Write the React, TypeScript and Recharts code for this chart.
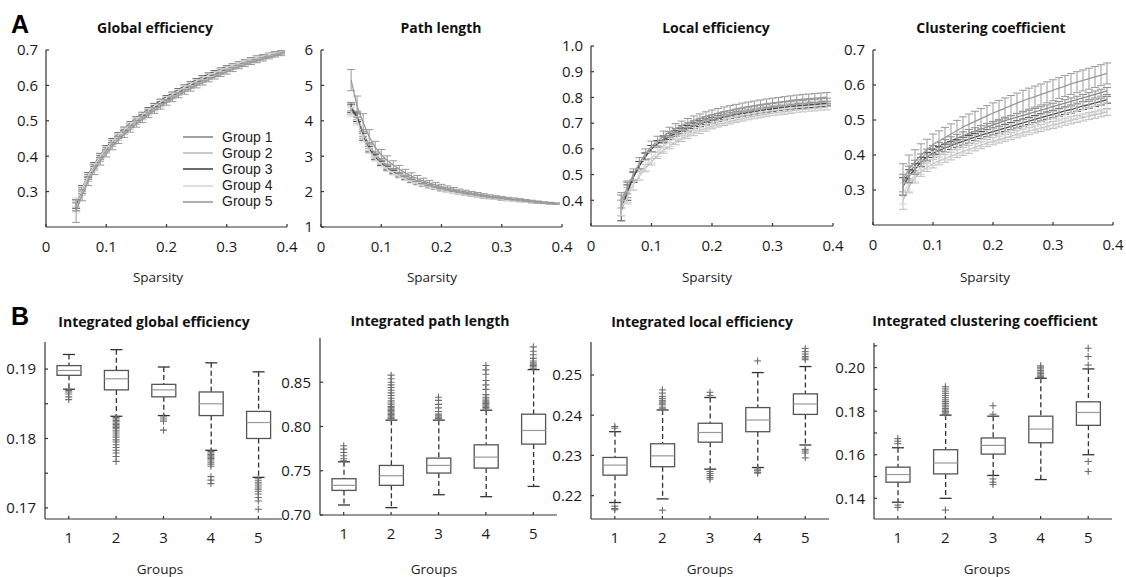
import React from 'react';
import { ComposedChart, Line, ErrorBar, Bar, Scatter, XAxis, YAxis, Legend } from 'recharts';

// ---- shared ----
const sparsity = [0.05, 0.06, 0.07, 0.08, 0.09, 0.1, 0.11, 0.12, 0.13, 0.14, 0.15, 0.16, 0.17, 0.18, 0.19, 0.2, 0.21, 0.22, 0.23, 0.24, 0.25, 0.26, 0.27, 0.28, 0.29, 0.3, 0.31, 0.32, 0.33, 0.34, 0.35, 0.36, 0.37, 0.38, 0.39];
const groupNames = ['Group 1', 'Group 2', 'Group 3', 'Group 4', 'Group 5'];
const boxCategories = ['1', '2', '3', '4', '5'];
const sparsityTicks = [0, 0.1, 0.2, 0.3, 0.4];

// ---- global efficiency ----
const geMeans = [
  [0.258, 0.303, 0.341, 0.370, 0.396, 0.418, 0.438, 0.455, 0.471, 0.486, 0.500, 0.513, 0.526, 0.538, 0.550, 0.561, 0.571, 0.581, 0.591, 0.600, 0.609, 0.617, 0.625, 0.632, 0.639, 0.646, 0.653, 0.659, 0.665, 0.670, 0.675, 0.680, 0.684, 0.688, 0.692],
  [0.255, 0.298, 0.336, 0.365, 0.391, 0.413, 0.433, 0.450, 0.466, 0.481, 0.495, 0.508, 0.521, 0.533, 0.545, 0.556, 0.566, 0.576, 0.586, 0.595, 0.604, 0.612, 0.620, 0.628, 0.635, 0.642, 0.649, 0.655, 0.661, 0.667, 0.672, 0.677, 0.682, 0.686, 0.690],
  [0.265, 0.309, 0.347, 0.376, 0.402, 0.424, 0.444, 0.461, 0.477, 0.492, 0.506, 0.519, 0.532, 0.544, 0.556, 0.567, 0.577, 0.587, 0.597, 0.606, 0.615, 0.623, 0.631, 0.638, 0.645, 0.652, 0.658, 0.664, 0.670, 0.675, 0.680, 0.684, 0.688, 0.692, 0.695],
  [0.270, 0.307, 0.345, 0.374, 0.400, 0.422, 0.442, 0.459, 0.475, 0.490, 0.504, 0.517, 0.530, 0.542, 0.554, 0.565, 0.575, 0.585, 0.595, 0.604, 0.613, 0.621, 0.629, 0.636, 0.643, 0.650, 0.657, 0.663, 0.669, 0.674, 0.679, 0.683, 0.687, 0.691, 0.694],
  [0.245, 0.290, 0.330, 0.360, 0.386, 0.408, 0.428, 0.446, 0.462, 0.477, 0.491, 0.504, 0.517, 0.529, 0.541, 0.552, 0.562, 0.572, 0.582, 0.591, 0.600, 0.608, 0.616, 0.624, 0.631, 0.638, 0.645, 0.652, 0.658, 0.664, 0.669, 0.674, 0.679, 0.684, 0.688],
];
const geErrNarrow = [0.012, 0.008, 0.007, 0.006, 0.006, 0.006, 0.006, 0.005, 0.005, 0.005, 0.005, 0.005, 0.005, 0.005, 0.005, 0.004, 0.004, 0.004, 0.004, 0.004, 0.004, 0.004, 0.004, 0.004, 0.004, 0.003, 0.003, 0.003, 0.003, 0.003, 0.003, 0.003, 0.003, 0.003, 0.003];
const geErrWide = [0.032, 0.016, 0.013, 0.012, 0.011, 0.010, 0.010, 0.010, 0.009, 0.009, 0.009, 0.009, 0.008, 0.008, 0.008, 0.008, 0.008, 0.007, 0.007, 0.007, 0.007, 0.007, 0.006, 0.006, 0.006, 0.006, 0.006, 0.005, 0.005, 0.005, 0.005, 0.005, 0.004, 0.004, 0.004];
const geErrs = [geErrNarrow, geErrNarrow, geErrNarrow, geErrNarrow, geErrWide];

// ---- path length ----
const plMeans = [
  [4.4, 4.15, 3.65, 3.3, 3.05, 2.87, 2.72, 2.6, 2.5, 2.42, 2.35, 2.28, 2.22, 2.17, 2.12, 2.08, 2.04, 2.0, 1.97, 1.94, 1.91, 1.89, 1.86, 1.84, 1.82, 1.8, 1.78, 1.76, 1.74, 1.73, 1.71, 1.7, 1.68, 1.67, 1.66],
  [4.3, 4.05, 3.6, 3.25, 3.0, 2.82, 2.68, 2.57, 2.47, 2.39, 2.32, 2.26, 2.2, 2.15, 2.1, 2.06, 2.02, 1.99, 1.96, 1.93, 1.9, 1.88, 1.85, 1.83, 1.81, 1.79, 1.77, 1.75, 1.74, 1.72, 1.71, 1.69, 1.68, 1.67, 1.65],
  [4.35, 4.1, 3.55, 3.2, 2.97, 2.8, 2.66, 2.55, 2.45, 2.37, 2.3, 2.24, 2.18, 2.13, 2.09, 2.05, 2.01, 1.98, 1.95, 1.92, 1.89, 1.87, 1.84, 1.82, 1.8, 1.78, 1.76, 1.75, 1.73, 1.72, 1.7, 1.69, 1.68, 1.66, 1.65],
  [4.25, 4.0, 3.5, 3.15, 2.93, 2.76, 2.63, 2.52, 2.43, 2.35, 2.28, 2.22, 2.17, 2.12, 2.08, 2.04, 2.0, 1.97, 1.94, 1.91, 1.89, 1.86, 1.84, 1.82, 1.8, 1.78, 1.76, 1.74, 1.73, 1.71, 1.7, 1.69, 1.67, 1.66, 1.65],
  [5.15, 4.4, 3.95, 3.55, 3.25, 3.04, 2.88, 2.75, 2.63, 2.53, 2.44, 2.37, 2.3, 2.24, 2.19, 2.14, 2.1, 2.06, 2.02, 1.99, 1.96, 1.93, 1.9, 1.87, 1.85, 1.83, 1.81, 1.79, 1.77, 1.75, 1.73, 1.71, 1.69, 1.68, 1.66],
];
const plErrNarrow = [0.12, 0.12, 0.1, 0.08, 0.07, 0.06, 0.055, 0.05, 0.045, 0.04, 0.04, 0.035, 0.035, 0.03, 0.03, 0.03, 0.025, 0.025, 0.025, 0.025, 0.02, 0.02, 0.02, 0.02, 0.02, 0.02, 0.015, 0.015, 0.015, 0.015, 0.015, 0.015, 0.015, 0.015, 0.015];
const plErrWide = [0.3, 0.3, 0.25, 0.2, 0.17, 0.15, 0.13, 0.12, 0.11, 0.1, 0.09, 0.085, 0.08, 0.075, 0.07, 0.065, 0.06, 0.055, 0.05, 0.05, 0.045, 0.045, 0.04, 0.04, 0.035, 0.035, 0.03, 0.03, 0.03, 0.025, 0.025, 0.025, 0.02, 0.02, 0.02];
const plErrs = [plErrNarrow, plErrNarrow, plErrNarrow, plErrNarrow, plErrWide];

// ---- local efficiency ----
const leMeans = [
  [0.38, 0.44, 0.49, 0.535, 0.57, 0.60, 0.62, 0.64, 0.655, 0.668, 0.68, 0.69, 0.70, 0.708, 0.715, 0.722, 0.728, 0.734, 0.739, 0.744, 0.748, 0.752, 0.756, 0.76, 0.763, 0.766, 0.769, 0.772, 0.775, 0.777, 0.779, 0.781, 0.783, 0.785, 0.787],
  [0.38, 0.42, 0.46, 0.495, 0.525, 0.55, 0.575, 0.595, 0.612, 0.627, 0.64, 0.652, 0.662, 0.671, 0.68, 0.688, 0.695, 0.701, 0.707, 0.713, 0.718, 0.723, 0.727, 0.731, 0.735, 0.739, 0.742, 0.745, 0.748, 0.751, 0.754, 0.756, 0.758, 0.76, 0.762],
  [0.36, 0.43, 0.49, 0.535, 0.57, 0.60, 0.62, 0.635, 0.648, 0.66, 0.67, 0.68, 0.69, 0.698, 0.705, 0.712, 0.718, 0.724, 0.729, 0.734, 0.738, 0.742, 0.746, 0.75, 0.753, 0.756, 0.759, 0.762, 0.765, 0.767, 0.769, 0.771, 0.773, 0.775, 0.777],
  [0.37, 0.41, 0.46, 0.50, 0.535, 0.565, 0.59, 0.61, 0.628, 0.643, 0.656, 0.667, 0.677, 0.686, 0.694, 0.701, 0.708, 0.714, 0.72, 0.725, 0.73, 0.734, 0.738, 0.742, 0.746, 0.749, 0.752, 0.755, 0.758, 0.76, 0.762, 0.764, 0.766, 0.768, 0.77],
  [0.40, 0.45, 0.50, 0.545, 0.58, 0.61, 0.63, 0.65, 0.665, 0.68, 0.69, 0.70, 0.71, 0.718, 0.726, 0.733, 0.739, 0.745, 0.75, 0.755, 0.76, 0.764, 0.768, 0.772, 0.776, 0.779, 0.782, 0.785, 0.788, 0.791, 0.793, 0.795, 0.797, 0.799, 0.801],
];
const leErrNarrow = [0.04, 0.03, 0.02, 0.016, 0.014, 0.013, 0.012, 0.012, 0.012, 0.011, 0.011, 0.011, 0.011, 0.011, 0.011, 0.01, 0.01, 0.01, 0.01, 0.01, 0.01, 0.01, 0.01, 0.01, 0.01, 0.01, 0.01, 0.01, 0.01, 0.01, 0.01, 0.01, 0.01, 0.01, 0.01];
const leErrWide = [0.03, 0.025, 0.022, 0.021, 0.02, 0.02, 0.019, 0.019, 0.019, 0.018, 0.018, 0.018, 0.018, 0.018, 0.018, 0.018, 0.018, 0.018, 0.018, 0.018, 0.018, 0.018, 0.018, 0.018, 0.018, 0.018, 0.018, 0.018, 0.018, 0.018, 0.018, 0.018, 0.018, 0.018, 0.018];
const leErrs = [leErrNarrow, leErrNarrow, leErrNarrow, leErrWide, leErrWide];

// ---- clustering coefficient ----
const ccMeans = [
  [0.32, 0.35, 0.37, 0.39, 0.405, 0.415, 0.425, 0.433, 0.441, 0.448, 0.455, 0.462, 0.468, 0.474, 0.48, 0.486, 0.492, 0.498, 0.503, 0.508, 0.513, 0.518, 0.523, 0.528, 0.533, 0.538, 0.543, 0.548, 0.553, 0.558, 0.563, 0.568, 0.573, 0.578, 0.583],
  [0.27, 0.31, 0.335, 0.352, 0.365, 0.375, 0.383, 0.39, 0.397, 0.404, 0.41, 0.416, 0.422, 0.428, 0.434, 0.439, 0.444, 0.449, 0.454, 0.459, 0.464, 0.468, 0.473, 0.477, 0.482, 0.486, 0.49, 0.495, 0.499, 0.503, 0.507, 0.511, 0.515, 0.519, 0.523],
  [0.31, 0.34, 0.36, 0.38, 0.395, 0.405, 0.413, 0.42, 0.427, 0.433, 0.439, 0.445, 0.451, 0.457, 0.462, 0.467, 0.472, 0.477, 0.482, 0.487, 0.492, 0.497, 0.502, 0.507, 0.512, 0.516, 0.521, 0.526, 0.53, 0.535, 0.54, 0.544, 0.549, 0.553, 0.558],
  [0.29, 0.32, 0.345, 0.365, 0.38, 0.39, 0.398, 0.406, 0.413, 0.42, 0.426, 0.432, 0.438, 0.444, 0.45, 0.455, 0.46, 0.465, 0.47, 0.475, 0.48, 0.485, 0.49, 0.495, 0.50, 0.505, 0.51, 0.515, 0.52, 0.525, 0.53, 0.535, 0.54, 0.545, 0.55],
  [0.33, 0.36, 0.38, 0.40, 0.415, 0.43, 0.44, 0.45, 0.46, 0.47, 0.48, 0.488, 0.496, 0.504, 0.512, 0.52, 0.527, 0.534, 0.541, 0.548, 0.555, 0.561, 0.567, 0.573, 0.579, 0.585, 0.591, 0.597, 0.603, 0.608, 0.613, 0.618, 0.623, 0.628, 0.633],
];
const ccErrNarrow = [0.025, 0.018, 0.015, 0.013, 0.012, 0.012, 0.011, 0.011, 0.011, 0.011, 0.011, 0.011, 0.01, 0.01, 0.01, 0.01, 0.01, 0.01, 0.01, 0.01, 0.01, 0.01, 0.01, 0.01, 0.01, 0.01, 0.01, 0.01, 0.01, 0.01, 0.01, 0.01, 0.01, 0.01, 0.01];
const ccErrMid = [0.03, 0.025, 0.022, 0.02, 0.02, 0.02, 0.02, 0.02, 0.02, 0.02, 0.02, 0.02, 0.02, 0.02, 0.02, 0.02, 0.02, 0.02, 0.02, 0.02, 0.02, 0.02, 0.02, 0.02, 0.02, 0.02, 0.02, 0.02, 0.02, 0.02, 0.02, 0.02, 0.02, 0.02, 0.02];
const ccErrWide = [0.045, 0.04, 0.035, 0.032, 0.03, 0.03, 0.029, 0.029, 0.029, 0.029, 0.029, 0.029, 0.029, 0.029, 0.029, 0.029, 0.029, 0.029, 0.029, 0.029, 0.03, 0.03, 0.03, 0.03, 0.03, 0.03, 0.03, 0.03, 0.03, 0.03, 0.03, 0.03, 0.03, 0.03, 0.03];
const ccErrs = [ccErrNarrow, ccErrNarrow, ccErrNarrow, ccErrMid, ccErrWide];

// ---- box plots: [lower whisker, q1, median, q3, upper whisker] per group ----
const igeBoxes = [
  [0.1871, 0.1891, 0.1898, 0.1905, 0.1921],
  [0.1832, 0.1870, 0.1886, 0.1898, 0.1928],
  [0.1833, 0.1860, 0.1870, 0.1878, 0.1903],
  [0.1783, 0.1833, 0.1850, 0.1867, 0.1909],
  [0.1744, 0.1800, 0.1823, 0.1839, 0.1896],
];
const igeOutliers = [
  [0.1869, 0.1867, 0.1864, 0.1860, 0.1856],
  [0.1830, 0.1828, 0.1826, 0.1824, 0.1822, 0.1820, 0.1818, 0.1816, 0.1814, 0.1811, 0.1808, 0.1805, 0.1802, 0.1798, 0.1795, 0.1791, 0.1787, 0.1783, 0.1779, 0.1774, 0.1767],
  [0.1831, 0.1828, 0.1825, 0.1812],
  [0.1781, 0.1779, 0.1777, 0.1775, 0.1773, 0.1771, 0.1769, 0.1766, 0.1763, 0.1760, 0.1745, 0.1740, 0.1735],
  [0.1742, 0.1739, 0.1736, 0.1733, 0.1730, 0.1727, 0.1724, 0.1720, 0.1715, 0.1710, 0.1698],
];
const iplBoxes = [
  [0.7113, 0.7278, 0.7335, 0.7410, 0.7601],
  [0.7083, 0.7335, 0.7444, 0.7560, 0.8072],
  [0.7229, 0.7474, 0.7560, 0.7643, 0.8072],
  [0.7207, 0.7530, 0.7654, 0.7793, 0.8184],
  [0.7323, 0.7801, 0.7955, 0.8139, 0.8643],
];
const iplOutliers = [
  [0.7613, 0.7635, 0.7669, 0.7707, 0.7744, 0.7782],
  [0.8090, 0.8105, 0.8120, 0.8135, 0.8150, 0.8165, 0.8180, 0.8195, 0.8210, 0.8225, 0.8245, 0.8265, 0.8290, 0.8320, 0.8350, 0.8380, 0.8410, 0.8440, 0.8470, 0.8500, 0.8540, 0.8580],
  [0.8090, 0.8105, 0.8120, 0.8140, 0.8170, 0.8210, 0.8250, 0.8295, 0.8330],
  [0.8200, 0.8215, 0.8230, 0.8245, 0.8260, 0.8275, 0.8290, 0.8310, 0.8330, 0.8360, 0.8420, 0.8470, 0.8520, 0.8590, 0.8640, 0.8690],
  [0.8658, 0.8675, 0.8690, 0.8705, 0.8720, 0.8740, 0.8770, 0.8810, 0.8850, 0.8900],
];
const ileBoxes = [
  [0.2183, 0.2251, 0.2276, 0.2295, 0.2359],
  [0.2192, 0.2272, 0.2299, 0.2329, 0.2413],
  [0.2266, 0.2333, 0.2357, 0.2380, 0.2444],
  [0.2270, 0.2359, 0.2388, 0.2419, 0.2506],
  [0.2326, 0.2402, 0.2428, 0.2453, 0.2521],
];
const ileOutliers = [
  [0.2368, 0.2372, 0.2174, 0.2168, 0.2165],
  [0.2416, 0.2420, 0.2426, 0.2430, 0.2433, 0.2437, 0.2442, 0.2447, 0.2455, 0.2463, 0.2164],
  [0.2449, 0.2457, 0.2260, 0.2255, 0.2250, 0.2245, 0.2241],
  [0.2535, 0.2266, 0.2262, 0.2258, 0.2256],
  [0.2538, 0.2542, 0.2546, 0.2552, 0.2558, 0.2566, 0.2315, 0.2311, 0.2306, 0.2294],
];
const iccBoxes = [
  [0.1382, 0.1474, 0.1509, 0.1543, 0.1632],
  [0.1400, 0.1512, 0.1562, 0.1623, 0.1782],
  [0.1505, 0.1603, 0.1643, 0.1677, 0.1777],
  [0.1486, 0.1655, 0.1718, 0.1777, 0.1951],
  [0.1600, 0.1735, 0.1794, 0.1843, 0.1994],
];
const iccOutliers = [
  [0.1651, 0.1662, 0.1674, 0.1369, 0.1358],
  [0.1786, 0.1792, 0.1798, 0.1805, 0.1812, 0.1820, 0.1828, 0.1836, 0.1844, 0.1852, 0.1862, 0.1872, 0.1882, 0.1892, 0.1902, 0.1912, 0.1346],
  [0.1786, 0.1825, 0.1489, 0.1474, 0.1463],
  [0.1955, 0.1960, 0.1966, 0.1972, 0.1979, 0.1986, 0.1994, 0.2002, 0.2008],
  [0.2012, 0.2051, 0.2089, 0.1569, 0.1523],
];

// ---- styles ----
const groupColors = ['#8a8a8a', '#bdbdbd', '#484848', '#d6d6d6', '#999999'];
const axisStyle = { stroke: '#333', strokeWidth: 1.2 };
const tickStyle = { fill: '#1a1a1a', fontSize: 15 };

const fmtSparsity = (v: number) => (v === 0 ? '0' : v.toFixed(1));
const fmt1 = (v: number) => v.toFixed(1);
const fmt0 = (v: number) => String(v);
const fmt2 = (v: number) => v.toFixed(2);
const fmtEvery10 = (v: number) => (Math.round(v * 1000) % 10 === 0 ? v.toFixed(2) : '');
const fmtEven = (v: number) => (Math.round(v * 100) % 2 === 0 ? v.toFixed(2) : '');

type Plot = [number, number, number, number];

function buildRows(means: number[][], errs: number[][]) {
  return sparsity.map((s, i) => {
    const row: Record<string, number> = { s };
    means.forEach((m, g) => {
      row['g' + g] = m[i];
      row['e' + g] = errs[g][i];
    });
    return row;
  });
}

const LegendBox = (props: any) => (
  <div>
    {(props.payload || []).map((p: any) => (
      <div key={p.value} style={{ display: 'flex', alignItems: 'center', height: 16.2 }}>
        <svg width={30} height={4} style={{ marginRight: 9, display: 'block' }}>
          <line x1={0} x2={30} y1={2} y2={2} stroke={p.color} strokeWidth={1.6} />
        </svg>
        <span style={{ display: 'inline-block', fontFamily: '"Liberation Sans", Arial, sans-serif', fontSize: 14, color: '#222', lineHeight: '15px', height: 15 }}>{p.value}</span>
      </div>
    ))}
  </div>
);

function LinePanel(props: { means: number[][]; errs: number[][]; plot: Plot; domain: [number, number]; ticks: number[]; fmt: (v: number) => string; legend?: boolean }) {
  const { means, errs, plot, domain, ticks, fmt, legend } = props;
  const rows = buildRows(means, errs);
  const left = plot[0] - 46;
  const top = plot[1] - 10;
  const width = plot[2] + 16 - left;
  const height = plot[3] + 34 - top;
  return (
    <div style={{ position: 'absolute', left, top }}>
      <ComposedChart width={width} height={height} data={rows} margin={{ top: 10, right: 16, bottom: 0, left: 0 }}>
        <XAxis dataKey="s" type="number" domain={[0, 0.4]} ticks={sparsityTicks} tickFormatter={fmtSparsity} interval={0} allowDataOverflow height={34} axisLine={axisStyle} tickLine={axisStyle} tickSize={-3} tickMargin={17} tick={tickStyle} />
        <YAxis type="number" domain={domain} ticks={ticks} tickFormatter={fmt} interval={0} allowDataOverflow width={46} axisLine={axisStyle} tickLine={axisStyle} tickSize={-3} tickMargin={11} tick={tickStyle} />
        {groupNames.map((name, g) => (
          <Line key={name} type="linear" dataKey={'g' + g} name={name} stroke={groupColors[g]} strokeWidth={1.3} dot={false} activeDot={false} isAnimationActive={false}>
            <ErrorBar dataKey={'e' + g} width={4} stroke={groupColors[g]} strokeWidth={1} direction="y" isAnimationActive={false} />
          </Line>
        ))}
        {legend && (
          <Legend layout="vertical" align="center" verticalAlign="middle" content={LegendBox} wrapperStyle={{ left: 183 - left, top: 129 - top, width: 'auto' }} />
        )}
      </ComposedChart>
    </div>
  );
}

const BoxShape = (props: any) => {
  const { x, y, width, height, payload } = props;
  const top = Math.min(y, y + height);
  const bot = Math.max(y, y + height);
  const k = (bot - top) / (payload.hi - payload.lo);
  const py = (v: number) => top + (payload.hi - v) * k;
  const cx = x + width / 2;
  const yq3 = py(payload.q3);
  const yq1 = py(payload.q1);
  const ym = py(payload.med);
  return (
    <g>
      <line x1={cx} x2={cx} y1={top} y2={yq3} stroke="#333" strokeWidth={1.3} strokeDasharray="5 3" />
      <line x1={cx} x2={cx} y1={yq1} y2={bot} stroke="#333" strokeWidth={1.3} strokeDasharray="5 3" />
      <line x1={cx - 6} x2={cx + 6} y1={top} y2={top} stroke="#333" strokeWidth={1.3} />
      <line x1={cx - 6} x2={cx + 6} y1={bot} y2={bot} stroke="#333" strokeWidth={1.3} />
      <rect x={x} y={yq3} width={width} height={yq1 - yq3} fill="#fff" stroke="#555" strokeWidth={1.3} />
      <line x1={x} x2={x + width} y1={ym} y2={ym} stroke="#999" strokeWidth={1.2} />
    </g>
  );
};

const PlusShape = (props: any) => {
  const { cx, cy } = props;
  return (
    <g stroke="#6e6e6e" strokeWidth={1.1}>
      <line x1={cx - 3.5} x2={cx + 3.5} y1={cy} y2={cy} />
      <line x1={cx} x2={cx} y1={cy - 3.5} y2={cy + 3.5} />
    </g>
  );
};

function BoxPanel(props: { boxes: number[][]; outliers: number[][]; plot: Plot; domain: [number, number]; ticks: number[]; fmt: (v: number) => string }) {
  const { boxes, outliers, plot, domain, ticks, fmt } = props;
  const data = boxes.map((b, i) => ({ g: boxCategories[i], range: [b[0], b[4]], lo: b[0], q1: b[1], med: b[2], q3: b[3], hi: b[4] }));
  const points = outliers.flatMap((list, i) => list.map((v) => ({ g: boxCategories[i], v })));
  const left = plot[0] - 46;
  const top = plot[1] - 10;
  const width = plot[2] + 16 - left;
  const height = plot[3] + 34 - top;
  return (
    <div style={{ position: 'absolute', left, top }}>
      <ComposedChart width={width} height={height} data={data} margin={{ top: 10, right: 16, bottom: 0, left: 0 }}>
        <XAxis dataKey="g" type="category" allowDuplicatedCategory={false} interval={0} height={34} axisLine={axisStyle} tickLine={axisStyle} tickSize={-3} tickMargin={16} tick={tickStyle} />
        <YAxis type="number" domain={domain} ticks={ticks} tickFormatter={fmt} interval={0} allowDataOverflow width={46} axisLine={axisStyle} tickLine={axisStyle} tickSize={-3} tickMargin={12} tick={tickStyle} />
        <Bar dataKey="range" barSize={24} shape={BoxShape} isAnimationActive={false} />
        <Scatter data={points} dataKey="v" shape={PlusShape} isAnimationActive={false} />
      </ComposedChart>
    </div>
  );
}

const titleStyle: React.CSSProperties = { position: 'absolute', transform: 'translate(-50%, -50%)', fontSize: 14, fontWeight: 700, color: '#111', whiteSpace: 'nowrap', lineHeight: 1 };
const labelStyle: React.CSSProperties = { position: 'absolute', transform: 'translate(-50%, -50%)', fontSize: 13.5, color: '#222', whiteSpace: 'nowrap', lineHeight: 1 };
const letterStyle: React.CSSProperties = { position: 'absolute', fontFamily: '"Liberation Sans", Arial, sans-serif', fontSize: 25, fontWeight: 700, color: '#000', lineHeight: 1 };

const titles: [string, number, number][] = [
  ['Global efficiency', 155, 28],
  ['Path length', 441, 28],
  ['Local efficiency', 716, 28],
  ['Clustering coefficient', 991, 28],
  ['Integrated global efficiency', 154, 322],
  ['Integrated path length', 430, 321],
  ['Integrated local efficiency', 702, 322],
  ['Integrated clustering coefficient', 985, 321],
];
const axisLabels: [string, number, number][] = [
  ['Sparsity', 158, 278],
  ['Sparsity', 432, 278],
  ['Sparsity', 707, 278],
  ['Sparsity', 985, 278],
  ['Groups', 160, 570],
  ['Groups', 434, 570],
  ['Groups', 710, 570],
  ['Groups', 987, 570],
];

export default function App() {
  return (
    <div style={{ position: 'absolute', left: 0, top: 0, width: 1126, height: 577, background: '#fff', overflow: 'hidden', fontFamily: '"Open Sans", sans-serif' }}>
      <div style={{ ...letterStyle, left: 11, top: 12 }}>A</div>
      <div style={{ ...letterStyle, left: 11, top: 304 }}>B</div>
      {titles.map(([t, x, y]) => (
        <div key={t} style={{ ...titleStyle, left: x, top: y }}>{t}</div>
      ))}
      {axisLabels.map(([t, x, y], i) => (
        <div key={i} style={{ ...labelStyle, left: x, top: y }}>{t}</div>
      ))}

      <LinePanel means={geMeans} errs={geErrs} plot={[46, 50, 287, 227]} domain={[0.2, 0.7]} ticks={[0.3, 0.4, 0.5, 0.6, 0.7]} fmt={fmt1} legend />
      <LinePanel means={plMeans} errs={plErrs} plot={[321, 50, 562, 227]} domain={[1, 6]} ticks={[1, 2, 3, 4, 5, 6]} fmt={fmt0} />
      <LinePanel means={leMeans} errs={leErrs} plot={[591, 46, 833, 226]} domain={[0.3, 1.0]} ticks={[0.4, 0.5, 0.6, 0.7, 0.8, 0.9, 1.0]} fmt={fmt1} />
      <LinePanel means={ccMeans} errs={ccErrs} plot={[873, 50, 1113, 225]} domain={[0.2, 0.7]} ticks={[0.3, 0.4, 0.5, 0.6, 0.7]} fmt={fmt1} />

      <BoxPanel boxes={igeBoxes} outliers={igeOutliers} plot={[45, 342, 282, 519]} domain={[0.1684, 0.1939]} ticks={[0.17, 0.175, 0.18, 0.185, 0.19]} fmt={fmtEvery10} />
      <BoxPanel boxes={iplBoxes} outliers={iplOutliers} plot={[320, 338, 557, 515]} domain={[0.7, 0.9]} ticks={[0.7, 0.75, 0.8, 0.85]} fmt={fmt2} />
      <BoxPanel boxes={ileBoxes} outliers={ileOutliers} plot={[591, 342, 829, 519]} domain={[0.2142, 0.2582]} ticks={[0.22, 0.23, 0.24, 0.25]} fmt={fmt2} />
      <BoxPanel boxes={iccBoxes} outliers={iccOutliers} plot={[874, 343, 1112, 519]} domain={[0.1305, 0.2113]} ticks={[0.14, 0.15, 0.16, 0.17, 0.18, 0.19, 0.2, 0.21]} fmt={fmtEven} />
    </div>
  );
}
